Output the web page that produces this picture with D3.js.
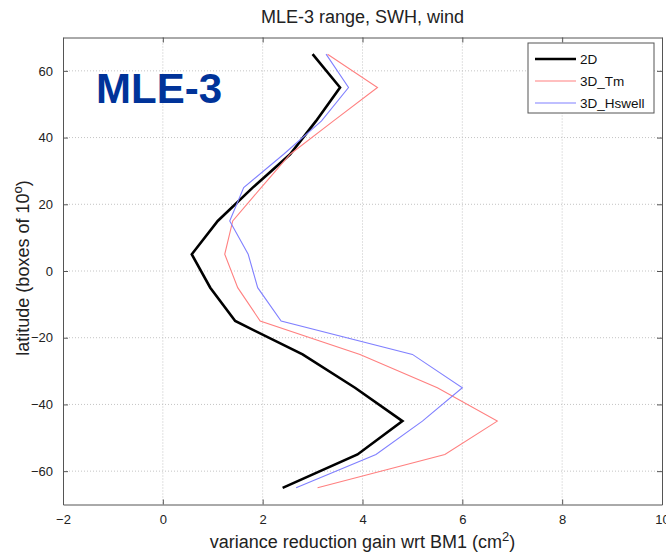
<!DOCTYPE html>
<html>
<head>
<meta charset="utf-8">
<script src="https://cdn.jsdelivr.net/npm/d3@7/dist/d3.min.js"></script>
<style>
  html, body { margin: 0; padding: 0; background: #fff; }
  svg { display: block; font-family: "Liberation Sans", Arial, sans-serif; }
</style>
</head>
<body>
<svg id="chart" width="666" height="560"></svg>
<script>
// Latitude bands (centres of 10-degree boxes)
const latitudes = [65, 55, 45, 35, 25, 15, 5, -5, -15, -25, -35, -45, -55, -65];

// Variance reduction gain per band (cm^2)
const gain2D      = [3.0, 3.55, 3.07, 2.55, 1.8, 1.1, 0.58, 0.95, 1.45, 2.8, 3.85, 4.8, 3.9, 2.4];
const gain3DTm    = [3.3, 4.3, 3.42, 2.55, 1.97, 1.4, 1.24, 1.5, 1.95, 3.95, 5.5, 6.7, 5.65, 3.1];
const gain3DHswell= [3.27, 3.72, 3.18, 2.42, 1.62, 1.34, 1.71, 1.9, 2.37, 5.0, 6.0, 5.2, 4.27, 2.67];

const seriesNames = ["2D", "3D_Tm", "3D_Hswell"];
const xTicks = [-2, 0, 2, 4, 6, 8, 10];
const yTicks = [-60, -40, -20, 0, 20, 40, 60];

const series = [
  { name: seriesNames[0], values: gain2D,       color: "#000000", width: 2.6 },
  { name: seriesNames[1], values: gain3DTm,     color: "#ff8080", width: 1.1 },
  { name: seriesNames[2], values: gain3DHswell, color: "#8080ff", width: 1.1 }
];

const svg = d3.select("#chart");
const pLeft = 63, pRight = 662, pTop = 37.5, pBottom = 504.5;

const x = d3.scaleLinear().domain([-2, 10]).range([pLeft, pRight]);
const y = d3.scaleLinear().domain([-70, 70]).range([pBottom, pTop]);

const axisColor = "#555";
const textColor = "#222";

// Grid lines (dotted)
const grid = svg.append("g");
grid.selectAll("line.gx").data(xTicks.slice(1, -1)).join("line")
  .attr("x1", d => x(d)).attr("x2", d => x(d))
  .attr("y1", pTop).attr("y2", pBottom)
  .attr("stroke", "#c4c4c4").attr("stroke-width", 1).attr("stroke-dasharray", "1,2");
grid.selectAll("line.gy").data(yTicks).join("line")
  .attr("x1", pLeft).attr("x2", pRight)
  .attr("y1", d => y(d)).attr("y2", d => y(d))
  .attr("stroke", "#c4c4c4").attr("stroke-width", 1).attr("stroke-dasharray", "1,2");

// Axes with inward ticks on all four sides
const tickLen = 5;
const axB = svg.append("g").attr("transform", `translate(0,${pBottom})`)
  .call(d3.axisBottom(x).tickValues(xTicks).tickSizeInner(-tickLen).tickSizeOuter(0).tickPadding(10).tickFormat(d3.format("d")));
const axT = svg.append("g").attr("transform", `translate(0,${pTop})`)
  .call(d3.axisTop(x).tickValues(xTicks).tickSizeInner(-tickLen).tickSizeOuter(0).tickFormat(""));
const axL = svg.append("g").attr("transform", `translate(${pLeft},0)`)
  .call(d3.axisLeft(y).tickValues(yTicks).tickSizeInner(-tickLen).tickSizeOuter(0).tickPadding(10).tickFormat(d3.format("d")));
const axR = svg.append("g").attr("transform", `translate(${pRight},0)`)
  .call(d3.axisRight(y).tickValues(yTicks).tickSizeInner(-tickLen).tickSizeOuter(0).tickFormat(""));

[axB, axT, axL, axR].forEach(a => {
  a.select(".domain").attr("stroke", axisColor);
  a.selectAll(".tick line").attr("stroke", axisColor);
  a.selectAll(".tick text").attr("fill", textColor).attr("font-size", 13)
    .attr("font-family", "Liberation Sans, Arial, sans-serif");
});
axB.selectAll(".tick text").attr("dy", "0.71em");

// Data lines
const line = d3.line().x(d => x(d[0])).y(d => y(d[1]));
series.forEach(s => {
  svg.append("path")
    .datum(s.values.map((v, i) => [v, latitudes[i]]))
    .attr("d", line)
    .attr("fill", "none")
    .attr("stroke", s.color)
    .attr("stroke-width", s.width)
    .attr("stroke-linejoin", "miter");
});

// Title and axis labels
svg.append("text").attr("x", (pLeft + pRight) / 2).attr("y", 22.5)
  .attr("text-anchor", "middle").attr("font-size", 18).attr("fill", textColor)
  .text("MLE-3 range, SWH, wind");

const xl = svg.append("text").attr("x", (pLeft + pRight) / 2).attr("y", 547.5)
  .attr("text-anchor", "middle").attr("font-size", 18).attr("fill", textColor);
xl.append("tspan").text("variance reduction gain wrt BM1 (cm");
xl.append("tspan").attr("dy", -7).attr("font-size", 13).text("2");
xl.append("tspan").attr("dy", 7).text(")");

const yl = svg.append("text")
  .attr("transform", `translate(28.5,268) rotate(-90)`)
  .attr("text-anchor", "middle").attr("font-size", 18).attr("fill", textColor);
yl.append("tspan").text("latitude (boxes of 10");
yl.append("tspan").attr("dy", -7).attr("font-size", 13).text("o");
yl.append("tspan").attr("dy", 7).text(")");

// Panel tag
svg.append("text").attr("x", 96).attr("y", 103)
  .attr("font-size", 42).attr("font-weight", "bold").attr("fill", "#003399")
  .text("MLE-3");

// Legend
const lg = svg.append("g");
lg.append("rect").attr("x", 528).attr("y", 43).attr("width", 126).attr("height", 70)
  .attr("fill", "#fff").attr("stroke", axisColor).attr("stroke-width", 1);
series.forEach((s, i) => {
  const ly = 59 + i * 22;
  lg.append("line").attr("x1", 535).attr("x2", 576).attr("y1", ly).attr("y2", ly)
    .attr("stroke", s.color).attr("stroke-width", s.width);
  lg.append("text").attr("x", 580).attr("y", ly + 5)
    .attr("font-size", 13.5).attr("fill", "#111").text(s.name);
});
</script>
</body>
</html>
